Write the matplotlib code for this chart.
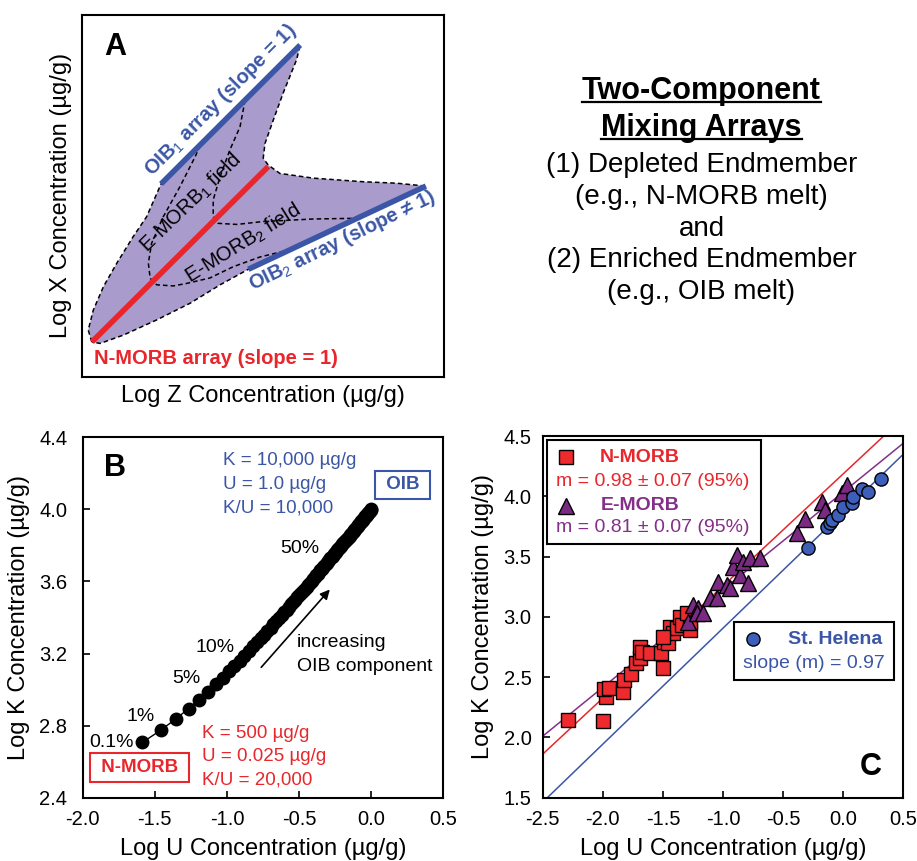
import numpy as np
import matplotlib
matplotlib.use('Agg')
import matplotlib.pyplot as plt
from matplotlib.patches import Polygon, Rectangle
from matplotlib.lines import Line2D

plt.rcParams['font.family'] = ['Liberation Sans', 'DejaVu Sans']
plt.rcParams['mathtext.fontset'] = 'custom'
plt.rcParams['mathtext.rm'] = 'Liberation Sans'
plt.rcParams['mathtext.bf'] = 'Liberation Sans:bold'
plt.rcParams['axes.unicode_minus'] = False

RED = '#e8262b'
BLUE = '#3b56a6'
PURPLE = '#842f89'
FILL = '#a99bcc'

#%%
# panel A - schematic outline, axes fraction units
field_x = [0.028, 0.018, 0.032, 0.060, 0.097, 0.142, 0.179, 0.219, 0.603, 0.593, 0.556,
           0.529, 0.506, 0.501, 0.515, 0.547, 0.639, 0.777, 0.869, 0.950, 0.460, 0.382,
           0.299, 0.207, 0.115, 0.051]
field_y = [0.096, 0.129, 0.184, 0.249, 0.314, 0.387, 0.442, 0.533, 0.917, 0.876, 0.784,
           0.710, 0.645, 0.604, 0.585, 0.562, 0.549, 0.539, 0.535, 0.527, 0.297, 0.254,
           0.203, 0.157, 0.115, 0.092]
nmorb_array = ([0.028, 0.515], [0.096, 0.581])
oib1_array = ([0.219, 0.603], [0.533, 0.917])
oib2_array = ([0.460, 0.950], [0.297, 0.527])
# left E-MORB1 boundary running into lower E-MORB2 boundary
curve1_x = [0.327, 0.313, 0.271, 0.225, 0.193, 0.184, 0.189, 0.207, 0.253, 0.290, 0.354, 0.418, 0.492, 0.575]
curve1_y = [0.640, 0.608, 0.525, 0.442, 0.369, 0.314, 0.272, 0.254, 0.251, 0.258, 0.273, 0.304, 0.331, 0.351]
# right E-MORB1 boundary running into upper E-MORB2 boundary
curve2_x = [0.451, 0.437, 0.409, 0.382, 0.363, 0.363, 0.376, 0.428, 0.501, 0.639, 0.760]
curve2_y = [0.765, 0.691, 0.627, 0.553, 0.489, 0.442, 0.424, 0.421, 0.429, 0.436, 0.438]

# panel B - two endmember mixing
nmorb_K, nmorb_U = 500.0, 0.025
oib_K, oib_U = 10000.0, 1.0
mix_percent = [0.1] + list(range(1, 101))
pct_labels = ['0.1%', '1%', '5%', '10%', '50%']
pct_label_u = [-1.80, -1.595, -1.28, -1.085, -0.494]
pct_label_k = [2.705, 2.85, 3.062, 3.234, 3.783]

# panel C - log U vs log K
nmorb_u = [-2.287, -1.995, -1.973, -1.990, -1.948, -1.829, -1.824, -1.768, -1.724, -1.690,
           -1.690, -1.677, -1.607, -1.516, -1.496, -1.491, -1.455, -1.441, -1.413, -1.385,
           -1.358, -1.344, -1.275, -1.275, -1.302, -1.496]
nmorb_k = [2.144, 2.136, 2.338, 2.399, 2.413, 2.379, 2.476, 2.526, 2.614, 2.656,
           2.753, 2.711, 2.697, 2.697, 2.573, 2.794, 2.786, 2.919, 2.863, 2.905,
           3.001, 2.932, 2.891, 2.960, 3.029, 2.836]
emorb_u = [-1.288, -1.247, -1.205, -1.219, -1.164, -1.108, -1.053, -1.039, -0.970, -0.942,
           -0.914, -0.886, -0.859, -0.831, -0.789, -0.776, -0.692, -0.382, -0.318, -0.180,
           -0.152, -0.013, 0.028]
emorb_k = [2.960, 3.098, 3.070, 3.030, 3.035, 3.154, 3.154, 3.292, 3.264, 3.237,
           3.416, 3.513, 3.347, 3.458, 3.284, 3.485, 3.485, 3.693, 3.809, 3.955,
           3.886, 4.025, 4.094]
sth_u = [-0.296, -0.138, -0.110, -0.096, -0.041, 0.001, 0.070, 0.084, 0.153, 0.209, 0.311]
sth_k = [3.568, 3.748, 3.780, 3.803, 3.845, 3.908, 3.942, 3.997, 4.058, 4.038, 4.141]
# regression lines as drawn: K = intercept + slope * U
fit_slope = [0.93, 0.81, 0.962]
fit_intercept = [4.186, 4.035, 3.868]
fit_color = [RED, PURPLE, BLUE]

SQ = dict(marker='s', markersize=9.5, markerfacecolor='#ee2a2e', markeredgecolor='black', markeredgewidth=1)
TRI = dict(marker='^', markersize=11, markerfacecolor='#7b2a83', markeredgecolor='black', markeredgewidth=1)
CIR = dict(marker='o', markersize=9.5, markerfacecolor='#3d5fba', markeredgecolor='black', markeredgewidth=1)

#%%
fig = plt.figure(figsize=(9.17, 8.61), dpi=100)
W, H = 917, 861


def px_axes(x0, y0, x1, y1):
    return fig.add_axes([x0 / W, 1 - y1 / H, (x1 - x0) / W, (y1 - y0) / H])


def style_axes(ax):
    for sp in ax.spines.values():
        sp.set_linewidth(1.5)
    ax.tick_params(direction='in', length=5, width=1.2, labelsize=14.5, top=False, right=False)


ax_a = px_axes(81.7, 15, 444, 376.7)
ax_b = px_axes(82.7, 437.3, 443.3, 797.7)
ax_c = px_axes(542.7, 436, 903.3, 797.7)

# ---- panel A
ax_a.set_xlim(0, 1)
ax_a.set_ylim(0, 1)
ax_a.set_xticks([])
ax_a.set_yticks([])
for sp in ax_a.spines.values():
    sp.set_linewidth(1.5)
ax_a.add_patch(Polygon(np.column_stack([field_x, field_y]), closed=True, facecolor=FILL,
                       edgecolor='black', linestyle=(0, (3, 2)), linewidth=1.1))
ax_a.plot(curve1_x, curve1_y, color='black', ls=(0, (3, 2)), lw=1.1)
ax_a.plot(curve2_x, curve2_y, color='black', ls=(0, (3, 2)), lw=1.1)
ax_a.plot(*oib1_array, color=BLUE, lw=4, solid_capstyle='butt')
ax_a.plot(*oib2_array, color=BLUE, lw=4, solid_capstyle='butt')
ax_a.plot(*nmorb_array, color=RED, lw=4, solid_capstyle='butt')

ax_a.text(0.092, 0.912, 'A', fontsize=22, fontweight='bold', ha='center', va='center')
ax_a.text(0.384, 0.765, 'OIB$_1$ array (slope = 1)', color=BLUE, fontsize=14.5, fontweight='bold',
          rotation=45, ha='center', va='center', rotation_mode='anchor')
ax_a.text(0.718, 0.376, 'OIB$_2$ array (slope ≠ 1)', color=BLUE, fontsize=14.5, fontweight='bold',
          rotation=26, ha='center', va='center', rotation_mode='anchor')
ax_a.text(0.371, 0.051, 'N-MORB array (slope = 1)', color=RED, fontsize=14.5, fontweight='bold',
          ha='center', va='center')
ax_a.text(0.301, 0.481, 'E-MORB$_1$ field', fontsize=14.5, rotation=44, ha='center', va='center',
          rotation_mode='anchor')
ax_a.text(0.446, 0.369, 'E-MORB$_2$ field', fontsize=14.5, rotation=32, ha='center', va='center',
          rotation_mode='anchor')
ax_a.set_xlabel('Log Z Concentration (µg/g)', fontsize=17, labelpad=6)
ax_a.set_ylabel('Log X Concentration (µg/g)', fontsize=17, labelpad=7)

# ---- explanatory text block
cx = 0.765
title_lines = ['Two-Component', 'Mixing Arrays']
title_base = [99.3, 136.0]
for line, yb in zip(title_lines, title_base):
    t = fig.text(cx, 1 - yb / H, line, fontsize=22, fontweight='bold', ha='center', va='baseline')
    fig.canvas.draw()
    bb = t.get_window_extent()
    yu = 1 - (yb + 3) / H
    fig.add_artist(Line2D([bb.x0 / W, bb.x1 / W], [yu, yu], color='black', lw=1.6))
body_lines = ['(1) Depleted Endmember', '(e.g., N-MORB melt)', 'and',
              '(2) Enriched Endmember', '(e.g., OIB melt)']
body_base = [171.7, 204.0, 235.7, 267.3, 299.3]
for line, yb in zip(body_lines, body_base):
    fig.text(cx, 1 - yb / H, line, fontsize=20, ha='center', va='baseline')

# ---- panel B
f = np.array(mix_percent) / 100.0
mix_k = f * oib_K + (1 - f) * nmorb_K
mix_u = f * oib_U + (1 - f) * nmorb_U
ax_b.plot(np.log10(mix_u), np.log10(mix_k), color='black', lw=1, marker='o', markersize=9,
          markerfacecolor='black', markeredgecolor='black', zorder=3)
ax_b.set_xlim(-2.0, 0.5)
ax_b.set_ylim(2.4, 4.4)
ax_b.set_xticks(np.arange(-2.0, 0.51, 0.5))
ax_b.set_yticks(np.arange(2.4, 4.41, 0.4))
ax_b.xaxis.set_major_formatter(matplotlib.ticker.FormatStrFormatter('%.1f'))
ax_b.yaxis.set_major_formatter(matplotlib.ticker.FormatStrFormatter('%.1f'))
style_axes(ax_b)
ax_b.tick_params(axis='y', pad=11)
ax_b.tick_params(axis='x', pad=9)
ax_b.set_xlabel('Log U Concentration (µg/g)', fontsize=17, labelpad=6)
ax_b.set_ylabel('Log K Concentration (µg/g)', fontsize=17, labelpad=7)

for lab, u, k in zip(pct_labels, pct_label_u, pct_label_k):
    ax_b.text(u, k, lab, fontsize=14, ha='center', va='center')
ax_b.annotate('', xy=(-0.274, 3.567), xytext=(-0.775, 3.112),
              arrowprops=dict(arrowstyle='-|>', color='black', lw=1.2, mutation_scale=14))
ax_b.text(-0.517, 3.262, 'increasing', fontsize=14, ha='left', va='center')
ax_b.text(-0.517, 3.13, 'OIB component', fontsize=14, ha='left', va='center')
ax_b.text(0.0896, 0.914, 'B', transform=ax_b.transAxes, fontsize=22, fontweight='bold',
          ha='center', va='center')
oib_text = ['K = 10,000 µg/g', 'U = 1.0 µg/g', 'K/U = 10,000']
for i, line in enumerate(oib_text):
    ax_b.text(-1.03, 4.27 - 0.13 * i, line, color=BLUE, fontsize=13.5, ha='left', va='center')
nmorb_text = ['K = 500 µg/g', 'U = 0.025 µg/g', 'K/U = 20,000']
for i, line in enumerate(nmorb_text):
    ax_b.text(-1.175, 2.759 - 0.13 * i, line, color=RED, fontsize=13.5, ha='left', va='center')
ax_b.text(0.22, 4.137, ' OIB ', color=BLUE, fontsize=13.5, fontweight='bold', ha='center', va='center',
          bbox=dict(boxstyle='square,pad=0.3', facecolor='white', edgecolor=BLUE, lw=1.5))
ax_b.text(-1.607, 2.568, ' N-MORB ', color=RED, fontsize=13.5, fontweight='bold', ha='center',
          va='center', bbox=dict(boxstyle='square,pad=0.3', facecolor='white', edgecolor=RED, lw=1.5))

# ---- panel C
ux = np.array([-2.5, 0.5])
for s, b, c in zip(fit_slope, fit_intercept, fit_color):
    ax_c.plot(ux, b + s * ux, color=c, lw=1.1, zorder=2)
ax_c.plot(nmorb_u, nmorb_k, ls='none', zorder=3, **SQ)
ax_c.plot(emorb_u, emorb_k, ls='none', zorder=4, **TRI)
ax_c.plot(sth_u, sth_k, ls='none', zorder=5, **CIR)
ax_c.set_xlim(-2.5, 0.5)
ax_c.set_ylim(1.5, 4.5)
ax_c.set_xticks(np.arange(-2.5, 0.51, 0.5))
ax_c.set_yticks(np.arange(1.5, 4.51, 0.5))
ax_c.xaxis.set_major_formatter(matplotlib.ticker.FormatStrFormatter('%.1f'))
ax_c.yaxis.set_major_formatter(matplotlib.ticker.FormatStrFormatter('%.1f'))
style_axes(ax_c)
ax_c.tick_params(axis='y', pad=8)
ax_c.tick_params(axis='x', pad=9)
ax_c.set_xlabel('Log U Concentration (µg/g)', fontsize=17, labelpad=6)
ax_c.set_ylabel('Log K Concentration (µg/g)', fontsize=17, labelpad=7)

tr = ax_c.transAxes
ax_c.add_patch(Rectangle((0.011, 0.701), 0.5935, 0.2877, transform=tr, facecolor='white',
                         edgecolor='black', lw=1.5, zorder=6))
ax_c.plot([0.0646], [0.9419], transform=tr, zorder=7, clip_on=False, **SQ)
ax_c.text(0.2698, 0.9419, 'N-MORB', transform=tr, color=RED, fontsize=14, fontweight='bold',
          ha='center', va='center', zorder=7)
ax_c.text(0.0369, 0.8747, 'm = 0.98 ± 0.07 (95%)', transform=tr, color=RED, fontsize=14,
          ha='left', va='center', zorder=7)
ax_c.plot([0.0646], [0.8065], transform=tr, zorder=7, clip_on=False, **TRI)
ax_c.text(0.2698, 0.8065, 'E-MORB', transform=tr, color=PURPLE, fontsize=14, fontweight='bold',
          ha='center', va='center', zorder=7)
ax_c.text(0.0369, 0.7476, 'm = 0.81 ± 0.07 (95%)', transform=tr, color=PURPLE, fontsize=14,
          ha='left', va='center', zorder=7)

ax_c.add_patch(Rectangle((0.5305, 0.3258), 0.4445, 0.1591, transform=tr, facecolor='white',
                         edgecolor='black', lw=1.5, zorder=6))
ax_c.plot([0.5824], [0.4379], transform=tr, zorder=7, clip_on=False, **CIR)
ax_c.text(0.8106, 0.4368, 'St. Helena', transform=tr, color=BLUE, fontsize=14, fontweight='bold',
          ha='center', va='center', zorder=7)
ax_c.text(0.5563, 0.3716, 'slope (m) = 0.97', transform=tr, color=BLUE, fontsize=14,
          ha='left', va='center', zorder=7)
ax_c.text(0.9096, 0.0857, 'C', transform=tr, fontsize=22, fontweight='bold', ha='center', va='center')

fig.savefig('out.png', dpi=100)
